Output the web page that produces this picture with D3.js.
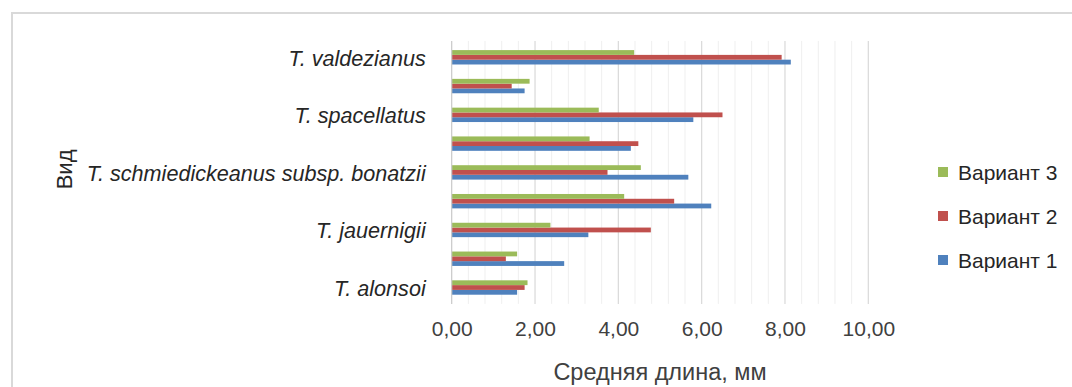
<!DOCTYPE html>
<html>
<head>
<meta charset="utf-8">
<script src="https://cdn.jsdelivr.net/npm/d3@7"></script>
<style>
  html, body { margin: 0; padding: 0; background: #fff; }
  svg { display: block; font-family: "Liberation Sans", Arial, sans-serif; }
</style>
</head>
<body>
<svg id="chart" width="1072" height="387"></svg>
<script>
// Categories bottom-to-top (Excel skipped every other label for lack of room)
const categories = ["T. alonsoi", "", "T. jauernigii", "", "T. schmiedickeanus subsp. bonatzii", "", "T. spacellatus", "", "T. valdezianus"];
const variant1 = [1.57, 2.70, 3.28, 6.23, 5.68, 4.30, 5.80, 1.75, 8.14];
const variant2 = [1.75, 1.30, 4.78, 5.34, 3.74, 4.48, 6.50, 1.44, 7.92];
const variant3 = [1.82, 1.57, 2.37, 4.14, 4.54, 3.31, 3.53, 1.87, 4.38];
const seriesNames = ["Вариант 1", "Вариант 2", "Вариант 3"];
const seriesColors = ["#4f81bd", "#c0504d", "#9bbb59"];
const xTickValues = [0, 2, 4, 6, 8, 10];
const xTickLabels = ["0,00", "2,00", "4,00", "6,00", "8,00", "10,00"];
const xTitle = "Средняя длина, мм";
const yTitle = "Вид";

const series = [
  { name: seriesNames[0], color: seriesColors[0], values: variant1 },
  { name: seriesNames[1], color: seriesColors[1], values: variant2 },
  { name: seriesNames[2], color: seriesColors[2], values: variant3 }
];

const svg = d3.select("#chart");
const plot = { left: 451.7, right: 868.3, top: 42.9, bottom: 301.9 };

// outer chart border
svg.append("path")
  .attr("d", `M12,400 L12,13 L1080,13`)
  .attr("fill", "none").attr("stroke", "#d9d9d9").attr("stroke-width", 2);

const x = d3.scaleLinear().domain([0, 10]).range([plot.left, plot.right]);
const idx = d3.range(categories.length);
const y = d3.scaleBand().domain(idx).range([plot.bottom, plot.top])
  .paddingInner(0.5).paddingOuter(0.25);
// within group: Variant 3 on top, Variant 1 at bottom
const yInner = d3.scaleBand().domain([2, 1, 0]).range([0, y.bandwidth()]);

// minor gridlines
const minor = d3.range(0, 10.001, 0.4).filter(v => Math.abs(v / 2 - Math.round(v / 2)) > 1e-6);
svg.append("g").selectAll("line").data(minor).join("line")
  .attr("x1", d => x(d)).attr("x2", d => x(d))
  .attr("y1", plot.top - 2).attr("y2", plot.bottom + 2)
  .attr("stroke", "#efefef").attr("stroke-width", 1);
// major gridlines
svg.append("g").selectAll("line").data(xTickValues.filter(v => v > 0)).join("line")
  .attr("x1", d => x(d)).attr("x2", d => x(d))
  .attr("y1", plot.top - 2).attr("y2", plot.bottom + 2)
  .attr("stroke", "#d9d9d9").attr("stroke-width", 1.2);

// bars
const groups = svg.append("g").selectAll("g").data(idx).join("g")
  .attr("transform", i => `translate(0,${y(i)})`);
groups.selectAll("rect")
  .data(i => series.map((s, si) => ({ si, v: s.values[i], color: s.color })))
  .join("rect")
  .attr("x", x(0))
  .attr("y", d => yInner(d.si))
  .attr("width", d => x(d.v) - x(0))
  .attr("height", yInner.bandwidth())
  .attr("fill", d => d.color);

// vertical axis line
svg.append("line")
  .attr("x1", plot.left).attr("x2", plot.left)
  .attr("y1", plot.top - 2).attr("y2", plot.bottom + 2)
  .attr("stroke", "#c8c8c8").attr("stroke-width", 1.2);

// x axis labels
const xAxis = d3.axisBottom(x).tickValues(xTickValues)
  .tickFormat((d, i) => xTickLabels[i]).tickSize(0).tickPadding(0);
const gx = svg.append("g").attr("transform", `translate(0,${plot.bottom})`).call(xAxis);
gx.select(".domain").remove();
gx.selectAll("text").attr("dy", null).attr("y", 34)
  .attr("font-size", 21).attr("font-family", "Liberation Sans, Arial, sans-serif")
  .attr("fill", "#404040");

// y axis labels
const yAxis = d3.axisLeft(y).tickFormat(i => categories[i]).tickSize(0).tickPadding(0);
const gy = svg.append("g").attr("transform", `translate(${plot.left - 26},0)`).call(yAxis);
gy.select(".domain").remove();
gy.selectAll("text").attr("x", 0).attr("dy", "0.38em")
  .attr("font-size", 21.6).attr("font-style", "italic")
  .attr("font-family", "Liberation Sans, Arial, sans-serif")
  .attr("fill", "#262626");

// axis titles
svg.append("text")
  .attr("x", (plot.left + plot.right) / 2).attr("y", 372)
  .attr("dy", "0.36em").attr("text-anchor", "middle")
  .attr("font-size", 23.5).attr("fill", "#404040").text(xTitle);
svg.append("text")
  .attr("transform", `translate(64,${(plot.top + plot.bottom) / 2 - 3}) rotate(-90)`)
  .attr("dy", "0.36em").attr("text-anchor", "middle")
  .attr("font-size", 22).attr("fill", "#262626").text(yTitle);

// legend (Variant 3 on top)
const legendY = d3.scalePoint().domain([2, 1, 0]).range([172, 260]);
const leg = svg.append("g").selectAll("g").data([2, 1, 0]).join("g")
  .attr("transform", d => `translate(938,${legendY(d)})`);
leg.append("rect").attr("x", 0).attr("y", -5).attr("width", 10).attr("height", 10)
  .attr("fill", d => series[d].color);
leg.append("text").attr("x", 20).attr("dy", "0.36em")
  .attr("font-size", 21).attr("fill", "#262626").text(d => series[d].name);
</script>
</body>
</html>
